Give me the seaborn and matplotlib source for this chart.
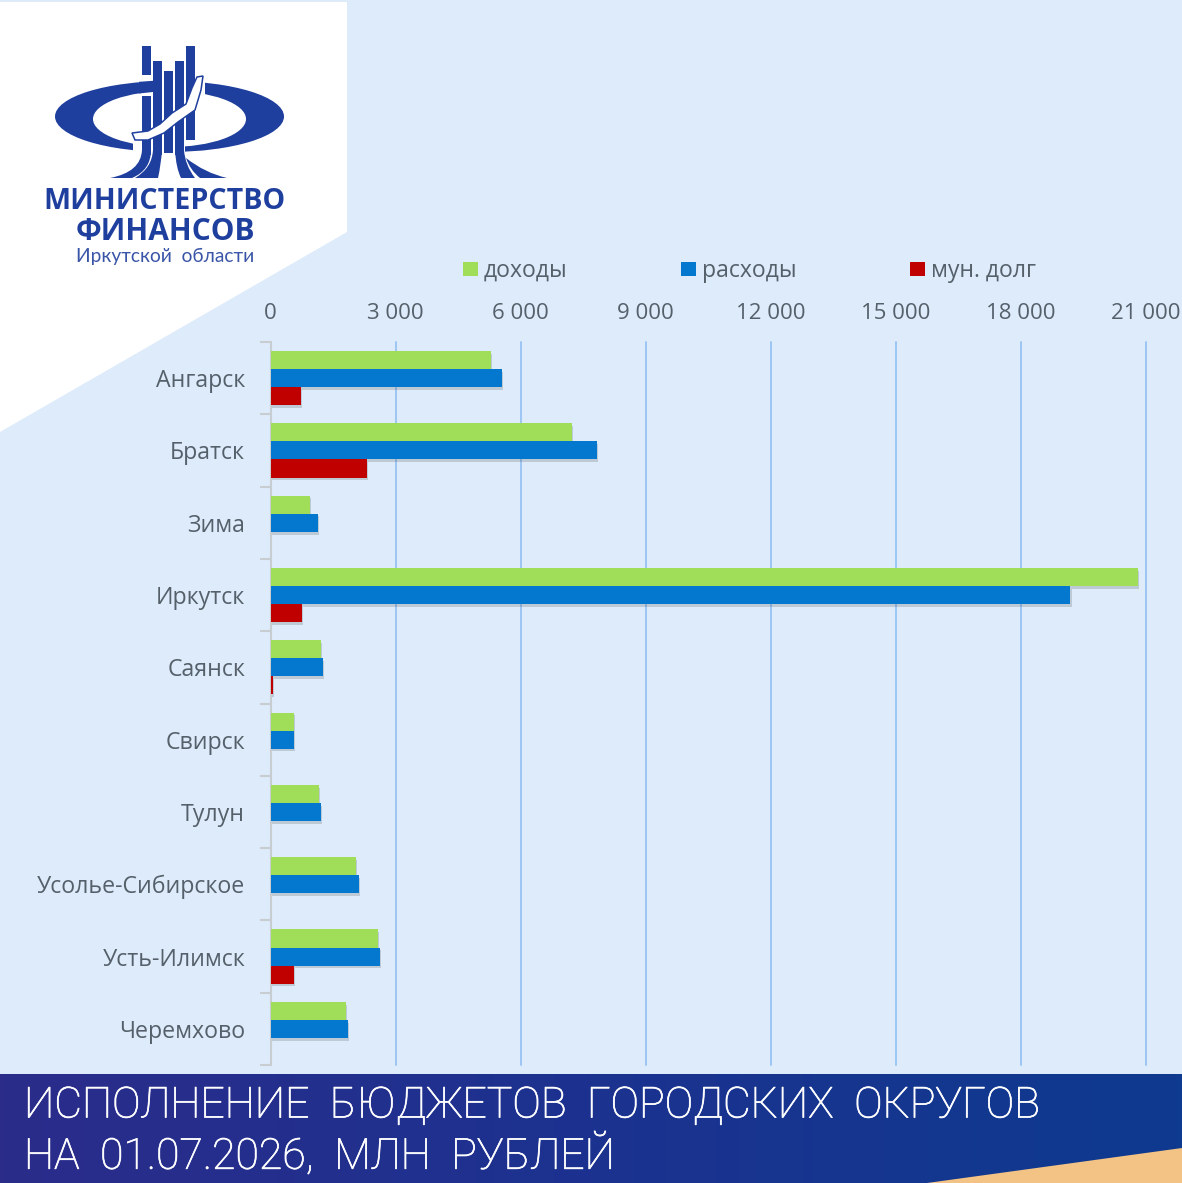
import numpy as np
import pandas as pd
import matplotlib
matplotlib.use("Agg")
import matplotlib.pyplot as plt
import matplotlib.patheffects as pe
from matplotlib.patches import Polygon, Ellipse, Rectangle, PathPatch
from matplotlib.path import Path
from matplotlib.ticker import FuncFormatter, MultipleLocator
import seaborn as sns

cities = ["Ангарск", "Братск", "Зима", "Иркутск", "Саянск", "Свирск", "Тулун",
          "Усолье-Сибирское", "Усть-Илимск", "Черемхово"]
revenue = [5290, 7230, 950, 20810, 1210, 565, 1165, 2050, 2570, 1810]
expense = [5553, 7830, 1140, 19180, 1260, 565, 1210, 2120, 2625, 1860]
debt = [730, 2315, np.nan, 755, 60, np.nan, np.nan, np.nan, 565, np.nan]
series_names = ["доходы", "расходы", "мун. долг"]
series_colors = ["#A0DE5A", "#0478CE", "#C00000"]
title_lines = ["ИСПОЛНЕНИЕ  БЮДЖЕТОВ  ГОРОДСКИХ  ОКРУГОВ", "НА  01.07.2026,  МЛН  РУБЛЕЙ"]

W, H = 1182, 1183
BG = "#DDEBFB"
TXT = "#55606A"
LOGO = "#1F3F9E"

sns.set_theme(style="white")
plt.rcParams["font.family"] = ["Open Sans", "DejaVu Sans"]

fig = plt.figure(figsize=(W / 100, H / 100), dpi=100, facecolor=BG)

# decorative layer in pixel coordinates
bg = fig.add_axes([0, 0, 1, 1], zorder=0)
bg.set_xlim(0, W); bg.set_ylim(H, 0); bg.axis("off")
bg.add_patch(Polygon([(0, 2), (347, 2), (347, 232), (0, 432)], fc="white", ec="none"))
grad = np.linspace(0, 1, 256)[None, :]
bg.imshow(grad, extent=(0, W, 1183, 1074), aspect="auto", zorder=1,
          cmap=matplotlib.colors.LinearSegmentedColormap.from_list("b", ["#2B2C8A", "#1C3290", "#0E3A8F"]))
bg.set_xlim(0, W); bg.set_ylim(H, 0)
bg.add_patch(Polygon([(927, 1183), (1182, 1148), (1182, 1183)], fc="#F2C384", ec="none", zorder=2))


def curve(pts, z=5, fc=LOGO):
    """Closed shape: p0 Q(p1) p2 L p3 Q(p4) p5."""
    codes = [Path.MOVETO, Path.CURVE3, Path.CURVE3, Path.LINETO, Path.CURVE3, Path.CURVE3, Path.CLOSEPOLY]
    bg.add_patch(PathPatch(Path(pts + [pts[0]], codes), fc=fc, ec="none", zorder=z))


# logo: crescents
bg.add_patch(Ellipse((169.5, 116.5), 229, 71, fc=LOGO, ec="none", zorder=3))
bg.add_patch(Ellipse((169.5, 119), 153, 56, fc="white", ec="none", zorder=3.1))
bg.add_patch(Polygon([(152, 76), (205, 76), (205, 100), (185, 140), (185, 156), (133, 156), (133, 140), (152, 100)],
                     fc="white", ec="none", zorder=3.2))
# logo: columns
for x0, top, bottom in [(142, 46, 155), (153, 61, 155), (164, 71, 153), (175, 61, 155), (186, 46, 140)]:
    bg.add_patch(Rectangle((x0, top), 9, bottom - top, fc=LOGO, ec="none", zorder=5))
# logo: tip of the left crescent crossing the first column
bg.add_patch(Rectangle((141, 75), 12, 21, fc="white", ec="none", zorder=5.5))
bg.add_patch(Polygon([(139, 81.8), (153, 80.8), (153, 92), (139, 93.5)], fc=LOGO, ec="none", zorder=5.6))
# logo: legs
curve([(142, 150), (141, 172), (110, 178), (132, 178), (151, 170), (151, 150)], z=6)
curve([(153, 150), (152, 168), (135, 178), (158, 178), (161, 165), (162, 150)], z=6)
curve([(175, 150), (176, 168), (181, 178), (195, 178), (185, 165), (184, 150)], z=6)
curve([(186, 158), (205, 173), (227, 178), (200, 178), (190, 170), (186, 158)], z=6)
# logo: lake
bg.add_patch(Polygon([(132, 133), (148, 131), (160, 124), (172, 113), (186, 104), (192, 88), (197, 77), (203, 76),
                      (201, 90), (195, 110), (178, 122), (164, 133), (148, 140), (135, 140)],
                     fc="white", ec=LOGO, lw=1.1, zorder=7))

bg.text(164.5, 198, "МИНИСТЕРСТВО", color=LOGO, fontsize=20.6, fontweight="bold", ha="center", va="center_baseline",
        family="Open Sans", zorder=8)
bg.text(165, 228, "ФИНАНСОВ", color=LOGO, fontsize=21.5, fontweight="bold", ha="center", va="center_baseline",
        family="Open Sans", zorder=8)
bg.text(165, 256, "Иркутской  области", color="#3A55A8", fontsize=13.8, ha="center", va="center",
        family="Lato", zorder=8)

# banner title
for txt, y in zip(title_lines, [1101.5, 1151.5]):
    bg.text(24, y, txt, color="white", fontsize=30.8, ha="left", va="center_baseline", family="Roboto",
            fontweight="light", zorder=8,
            path_effects=[pe.withStroke(linewidth=0.5, foreground="white")])

# chart
df = pd.DataFrame({"город": cities, series_names[0]: revenue, series_names[1]: expense, series_names[2]: debt})
long = df.melt(id_vars="город", var_name="серия", value_name="значение")

ax = fig.add_axes([270.5 / W, 1 - 1065 / H, (1146 - 270.5) / W, (1065 - 342) / H], zorder=2)
ax.patch.set_alpha(0)
sns.barplot(data=long, y="город", x="значение", hue="серия", order=cities, hue_order=series_names,
            palette=series_colors, width=0.75, gap=0, saturation=1, ax=ax, legend=False, zorder=3,
            linewidth=0, edgecolor="none", errorbar=None)
shadow = [pe.SimplePatchShadow(offset=(1, -2), alpha=0.18, shadow_rgbFace="#333333"), pe.Normal()]
for p in ax.patches:
    p.set_path_effects(shadow)

ax.set_xlim(0, 21000)
ax.set_ylim(len(cities) - 0.5, -0.5)
ax.xaxis.set_major_locator(MultipleLocator(3000))
ax.xaxis.set_major_formatter(FuncFormatter(lambda v, _: f"{int(v):,}".replace(",", " ")))
ax.xaxis.tick_top()
ax.set_xlabel(""); ax.set_ylabel("")
ax.grid(axis="x", color="#9CC5F2", lw=1.4, zorder=1, clip_on=False)
ax.set_axisbelow(True)
for s in ["top", "right", "bottom"]:
    ax.spines[s].set_visible(False)
ax.spines["left"].set_color("#C8CDD2")
ax.spines["left"].set_linewidth(1.5)
ax.set_yticks(np.arange(len(cities) + 1) - 0.5, minor=True)
ax.tick_params(axis="y", which="minor", length=8, color="#C8CDD2", width=1.5, left=True)
ax.tick_params(axis="y", which="major", length=0, pad=18.2, labelsize=16.7, labelcolor=TXT)
ax.tick_params(axis="x", which="major", length=0, pad=13, labelsize=16, labelcolor=TXT)

# legend row
for name, col, xm, xt in zip(series_names, series_colors, [463, 681, 910], [484, 702, 931]):
    bg.add_patch(Rectangle((xm, 262), 15, 14, fc=col, ec="none", zorder=8))
    bg.text(xt, 271, name, color=TXT, fontsize=16.6, ha="left", va="center", zorder=8)

fig.savefig("out.png", dpi=100, facecolor=BG)
